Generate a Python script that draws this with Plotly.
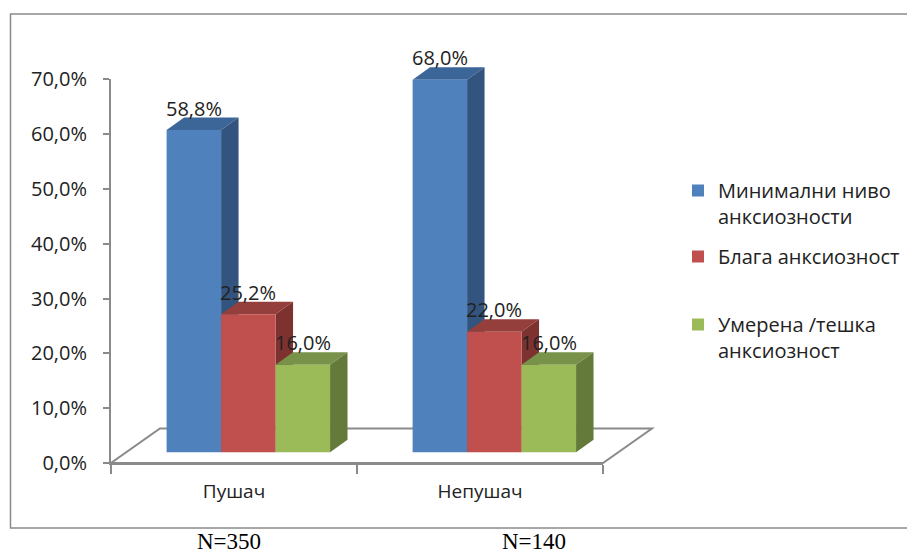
import plotly.graph_objects as go

# ---- data -------------------------------------------------------------
categories = ["Пушач", "Непушач"]
sample_sizes = ["N=350", "N=140"]
series_names = [
    "Минимални ниво<br>анксиозности",
    "Блага анксиозност",
    "Умерена /тешка<br>анксиозност",
]
minimal_level = [58.8, 68.0]
mild_level = [25.2, 22.0]
moderate_severe = [16.0, 16.0]
y_ticks = [0, 10, 20, 30, 40, 50, 60, 70]

series_values = [minimal_level, mild_level, moderate_severe]


def pct(v):
    return f"{v:.1f}".replace(".", ",") + "%"


# ---- style ------------------------------------------------------------
front_colors = ["#4F81BD", "#C0504D", "#9BBB59"]
top_colors = ["#3D6698", "#953F3D", "#79924A"]
side_colors = ["#32547E", "#7D3230", "#637A3A"]
axis_gray = "#8A8A8A"
text_color = "#222222"
FONT = "Open Sans"

W, H = 907, 555
PX_X = 246.0    # pixels per category
PX_Y = 5.48     # pixels per percentage point
X0_PX = 111.0   # left edge of the category axis
Y0_PX = 463.0   # pixel row of 0 %
Y_MAX = 70

# pseudo-3D geometry, in axis units
BAR_W = 0.2215      # bar width (category units)
BAR_START = -0.274  # first bar's left edge relative to the category centre
DEPTH_X = 0.071     # bar depth, horizontal component
DEPTH_Y = 2.28      # bar depth, vertical component (percentage points)
BASE = 1.95         # bars stand a little behind the front edge of the floor
FLOOR_DX = 0.199
FLOOR_DY = 6.3

fig = go.Figure()

# invisible trace so the category axis knows its categories
fig.add_trace(go.Scatter(x=categories, y=[0, 0], mode="markers",
                         marker=dict(opacity=0), showlegend=False,
                         hoverinfo="skip", xaxis="x", yaxis="y"))

shapes = []


def poly(points):
    return "M " + " L ".join(f"{px:.5f},{py:.5f}" for px, py in points) + " Z"


# floor of the 3D plot
shapes.append(dict(
    type="path", xref="x2", yref="y2", layer="below",
    path=poly([(-0.5, 0), (1.5, 0), (1.5 + FLOOR_DX, FLOOR_DY), (-0.5 + FLOOR_DX, FLOOR_DY)]),
    line=dict(color=axis_gray, width=2), fillcolor="rgba(255,255,255,0)",
))

annotations = []
legend_ids = ["legend", "legend2", "legend3"]

for s, (name, values) in enumerate(zip(series_names, series_values)):
    offset = BAR_START + s * BAR_W
    # front faces as real bars
    fig.add_trace(go.Bar(
        x=list(range(len(categories))), y=values, base=BASE,
        width=BAR_W, offset=offset, name=name,
        marker=dict(color=front_colors[s], line=dict(width=0)),
        xaxis="x2", yaxis="y2", legend=legend_ids[s],
    ))
    for c, v in enumerate(values):
        xl = c + offset
        xr = xl + BAR_W
        top = BASE + v
        shapes.append(dict(
            type="path", xref="x2", yref="y2", layer="below",
            path=poly([(xl, top), (xr, top), (xr + DEPTH_X, top + DEPTH_Y), (xl + DEPTH_X, top + DEPTH_Y)]),
            line=dict(width=0), fillcolor=top_colors[s],
        ))
        shapes.append(dict(
            type="path", xref="x2", yref="y2", layer="below",
            path=poly([(xr, BASE), (xr, top), (xr + DEPTH_X, top + DEPTH_Y), (xr + DEPTH_X, BASE + DEPTH_Y)]),
            line=dict(width=0), fillcolor=side_colors[s],
        ))
        annotations.append(dict(
            x=xl + BAR_W / 2, y=top + DEPTH_Y, xref="x2", yref="y2",
            text=pct(v), showarrow=False,
            yanchor="middle", yshift=9.5,
            font=dict(family=FONT, size=20, color=text_color),
        ))

# outer chart frame
shapes.append(dict(
    type="rect", xref="paper", yref="paper", layer="below",
    x0=10.5 / W, x1=1.02, y0=1 - 528 / H, y1=1 - 14 / H,
    line=dict(color=axis_gray, width=1.5), fillcolor="rgba(0,0,0,0)",
))

# sample sizes under the frame
for px, label in zip([229, 534], sample_sizes):
    annotations.append(dict(
        x=px / W, y=1 - 541 / H, xref="paper", yref="paper",
        text=label, showarrow=False, xanchor="center", yanchor="middle",
        font=dict(family="Liberation Serif", size=23, color="#000000"),
    ))

legend_common = dict(
    xanchor="left", yanchor="top", bgcolor="rgba(0,0,0,0)", borderwidth=0,
    font=dict(family=FONT, size=20, color=text_color), valign="top",
    itemwidth=30, itemclick=False, itemdoubleclick=False,
)
legend_x = 678 / W

fig.update_layout(
    width=W, height=H,
    margin=dict(l=0, r=0, t=0, b=0, pad=0),
    paper_bgcolor="white", plot_bgcolor="rgba(0,0,0,0)",
    separators=", ",
    barmode="overlay",
    shapes=shapes, annotations=annotations,
    legend=dict(x=legend_x, y=1 - 171 / H, **legend_common),
    legend2=dict(x=legend_x, y=1 - 237 / H, **legend_common),
    legend3=dict(x=legend_x, y=1 - 305 / H, **legend_common),
    xaxis=dict(
        type="category", categoryorder="array", categoryarray=categories,
        range=[-0.5, 1.5], domain=[X0_PX / W, (X0_PX + 2 * PX_X) / W],
        anchor="y", showline=True, linecolor=axis_gray, linewidth=2,
        ticks="outside", tickson="boundaries", ticklen=9, tickwidth=2, tickcolor=axis_gray,
        showgrid=False, zeroline=False, automargin=False, fixedrange=True,
        tickfont=dict(family=FONT, size=19, color=text_color), ticklabelstandoff=10,
    ),
    yaxis=dict(
        range=[0, Y_MAX], domain=[(H - Y0_PX) / H, (H - Y0_PX + Y_MAX * PX_Y) / H],
        anchor="x", showline=True, linecolor=axis_gray, linewidth=2,
        tickmode="array", tickvals=y_ticks, ticktext=[pct(t) for t in y_ticks],
        ticks="outside", ticklen=6, tickwidth=2, tickcolor=axis_gray,
        showgrid=False, zeroline=False, automargin=False, fixedrange=True,
        tickfont=dict(family=FONT, size=20, color=text_color), ticklabelstandoff=12,
    ),
    xaxis2=dict(
        range=[-0.5 - X0_PX / PX_X, -0.5 + (W - X0_PX) / PX_X], domain=[0, 1],
        anchor="y2", visible=False, fixedrange=True,
    ),
    yaxis2=dict(
        range=[-(H - Y0_PX) / PX_Y, Y0_PX / PX_Y], domain=[0, 1],
        anchor="x2", visible=False, fixedrange=True,
    ),
    showlegend=True,
)

fig.write_html("out.html")
